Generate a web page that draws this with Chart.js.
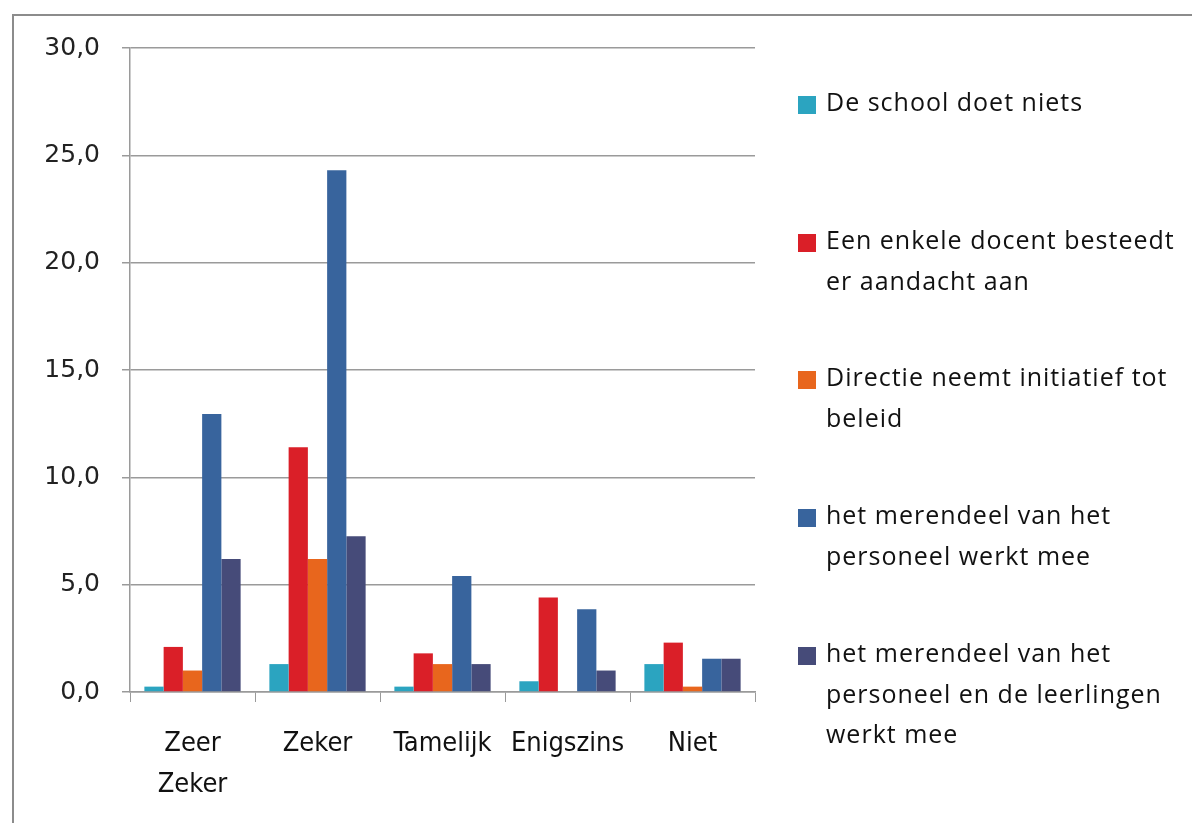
<!DOCTYPE html>
<html>
<head>
<meta charset="utf-8">
<script src="https://cdn.jsdelivr.net/npm/chart.js@4/dist/chart.umd.min.js"></script>
<style>
  html, body { margin: 0; padding: 0; background: #fff; }
  #wrap { width: 1192px; height: 823px; }
</style>
</head>
<body>
<div id="wrap"><canvas id="chart" width="1192" height="823"></canvas></div>
<script>
// Categories (x axis)
const categories = [['Zeer', 'Zeker'], 'Zeker', 'Tamelijk', 'Enigszins', 'Niet'];

// Series values
const schoolNiets = [0.25, 1.3, 0.25, 0.5, 1.3];
const enkeleDocent = [2.1, 11.4, 1.8, 4.4, 2.3];
const directie = [1.0, 6.2, 1.3, 0, 0.25];
const personeel = [12.95, 24.3, 5.4, 3.85, 1.55];
const personeelLeerlingen = [6.2, 7.25, 1.3, 1.0, 1.55];

// Legend text, broken over lines like the original
const seriesLabels = [
  ['De school doet niets'],
  ['Een enkele docent besteedt', 'er aandacht aan'],
  ['Directie neemt initiatief tot', 'beleid'],
  ['het merendeel van het', 'personeel werkt mee'],
  ['het merendeel van het', 'personeel en de leerlingen', 'werkt mee'],
];
const seriesColors = ['#2ba4c0', '#da1f28', '#e8661d', '#38649d', '#464b79'];

// y axis ticks
const yMin = 0, yMax = 30, yStep = 5;

// draw frame and wrapped legend on the right
const sideLegend = {
  id: 'sideLegend',
  beforeDraw(chart) {
    const ctx = chart.ctx;
    ctx.save();
    ctx.strokeStyle = '#8c8c8c';
    ctx.lineWidth = 2;
    ctx.strokeRect(13, 15, 1300, 1000);
    ctx.restore();
  },
  afterDraw(chart) {
    const ctx = chart.ctx;
    const tops = [104, 242, 379, 517, 655];
    ctx.save();
    ctx.font = '25px "Open Sans"';
    ctx.letterSpacing = '1px';
    ctx.textBaseline = 'middle';
    chart.data.datasets.forEach((ds, i) => {
      ctx.fillStyle = ds.backgroundColor;
      ctx.fillRect(798, tops[i] - 8, 18, 18);
      ctx.fillStyle = '#111';
      seriesLabels[i].forEach((line, j) => {
        ctx.fillText(line, 826, tops[i] + j * 40.5);
      });
    });
    ctx.restore();
  }
};

const datasets = [schoolNiets, enkeleDocent, directie, personeel, personeelLeerlingen].map((vals, i) => ({
  label: seriesLabels[i].join(' '),
  data: vals,
  backgroundColor: seriesColors[i],
  borderWidth: 0,
}));

new Chart(document.getElementById('chart'), {
  type: 'bar',
  data: { labels: categories, datasets },
  options: {
    responsive: false,
    animation: false,
    layout: { padding: { left: 14, right: 437, top: 48, bottom: 0 } },
    plugins: {
      legend: { display: false },
      tooltip: { enabled: false },
    },
    datasets: { bar: { categoryPercentage: 0.77, barPercentage: 1 } },
    scales: {
      x: {
        afterFit(scale) { scale.height = 823 - 692; },
        grid: { drawOnChartArea: false, drawTicks: true, tickLength: 10, color: '#9a9a9a', offset: true },
        border: { color: '#9a9a9a', width: 1.5 },
        ticks: {
          color: '#111',
          padding: 22,
          maxRotation: 0,
          autoSkip: false,
          font: { family: '"Liberation Sans Narrow", "DejaVu Sans Condensed", sans-serif', size: 27, lineHeight: 1.5 },
        },
      },
      y: {
        min: yMin,
        max: yMax,
        afterFit(scale) { scale.width = 130 - 14; },
        grid: { color: '#9a9a9a', lineWidth: 1.5, tickLength: 8 },
        border: { color: '#9a9a9a', width: 1.5 },
        ticks: {
          stepSize: yStep,
          color: '#222',
          padding: 22,
          font: { family: '"DejaVu Sans", sans-serif', size: 25 },
          callback: v => v.toFixed(1).replace('.', ','),
        },
      },
    },
  },
  plugins: [sideLegend],
});
</script>
</body>
</html>
